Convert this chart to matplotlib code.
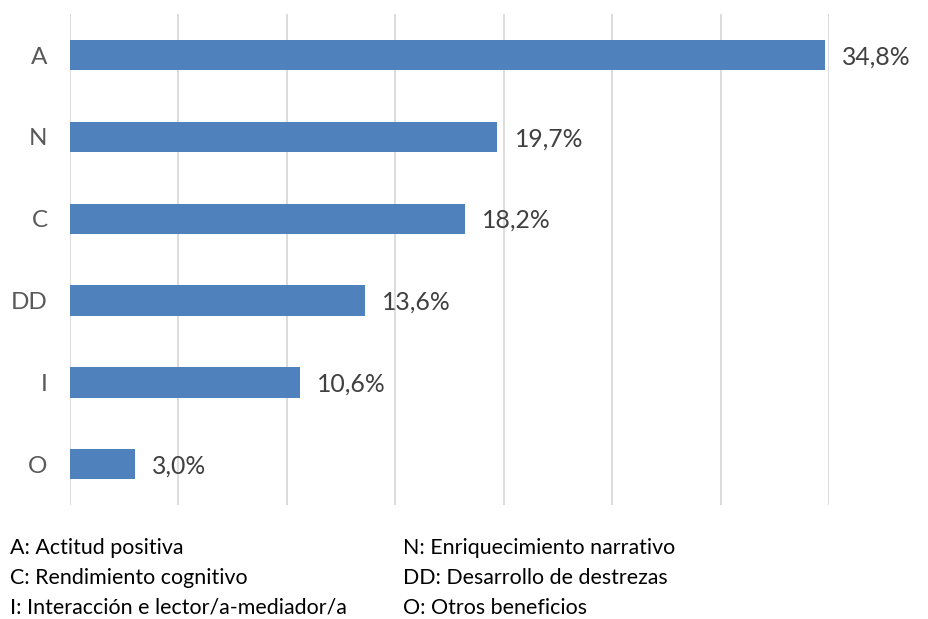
import matplotlib
matplotlib.use('Agg')
import matplotlib.pyplot as plt

categories = ['A', 'N', 'C', 'DD', 'I', 'O']
values = [34.8, 19.7, 18.2, 13.6, 10.6, 3.0]
legend_left = ['A: Actitud positiva', 'C: Rendimiento cognitivo',
               'I: Interacción e lector/a-mediador/a']
legend_right = ['N: Enriquecimiento narrativo', 'DD: Desarrollo de destrezas',
                'O: Otros beneficios']

plt.rcParams['font.family'] = ['Lato', 'DejaVu Sans']

fig = plt.figure(figsize=(9.29, 6.19), dpi=100)
ax = fig.add_axes([0.0753, 0.184, 0.817, 0.793])

y = list(range(len(categories)))
ax.barh(y, values, height=0.37, color='#4F81BD', zorder=3)
for yi, v in zip(y, values):
    ax.text(v + 0.8, yi + 0.02, f'{v:.1f}%'.replace('.', ','), va='center', ha='left',
            fontsize=17.8, color='#404040')

ax.set_xlim(0, 35)
ax.set_ylim(len(categories) - 0.5, -0.5)
ax.set_xticks(range(0, 36, 5))
ax.set_yticks(y)
ax.set_yticklabels(categories, fontsize=17.5, color='#595959')
ax.tick_params(axis='y', length=0, pad=16)
ax.tick_params(axis='x', length=0, labelbottom=False)
ax.grid(axis='x', color='#D9D9D9', linewidth=1.3, zorder=0)
for s in ax.spines.values():
    s.set_visible(False)

for i, (l, r) in enumerate(zip(legend_left, legend_right)):
    yy = 1 - (548 + 30 * i) / 619
    fig.text(10 / 929, yy, l, fontsize=15.4, va='center', ha='left', color='#000000')
    fig.text(403 / 929, yy, r, fontsize=15.4, va='center', ha='left', color='#000000')

fig.savefig('out.png', dpi=100)
